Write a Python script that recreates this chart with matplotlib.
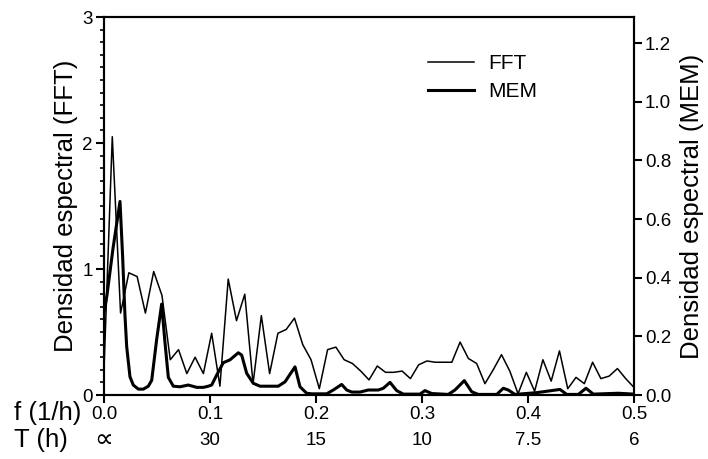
import numpy as np
import matplotlib
matplotlib.use("Agg")
import matplotlib.pyplot as plt
from matplotlib.ticker import MultipleLocator, FormatStrFormatter

plt.rcParams['font.family'] = ['Liberation Sans', 'DejaVu Sans']

# FFT periodogram, bins at k/128 (1/h)
fft_freq = np.arange(65) / 128
fft_dens = [0.20, 2.05, 0.65, 0.97, 0.94, 0.65, 0.98, 0.79, 0.28, 0.36,
            0.17, 0.30, 0.17, 0.49, 0.07, 0.92, 0.59, 0.80, 0.09, 0.63,
            0.17, 0.49, 0.52, 0.61, 0.40, 0.28, 0.05, 0.36, 0.38, 0.28,
            0.25, 0.19, 0.12, 0.23, 0.18, 0.18, 0.19, 0.13, 0.24, 0.27,
            0.26, 0.26, 0.26, 0.42, 0.29, 0.25, 0.09, 0.20, 0.32, 0.19,
            0.01, 0.18, 0.03, 0.28, 0.11, 0.35, 0.05, 0.14, 0.09, 0.26,
            0.13, 0.15, 0.21, 0.13, 0.06]

# MEM spectrum (right axis)
mem_freq = [0.0, 0.0028, 0.0085, 0.0151, 0.0176, 0.0198, 0.0214, 0.0245,
            0.0276, 0.0324, 0.0371, 0.0418, 0.0450, 0.0497, 0.0544, 0.0575,
            0.0607, 0.0654, 0.0717, 0.0795, 0.0875, 0.0937, 0.0984, 0.1016,
            0.1063, 0.1125, 0.1189, 0.1267, 0.1299, 0.1346, 0.1408, 0.1472,
            0.1644, 0.1708, 0.1802, 0.1849, 0.1912, 0.1959, 0.2101, 0.2163,
            0.2242, 0.2290, 0.2337, 0.2415, 0.2493, 0.2588, 0.2635, 0.2698,
            0.2761, 0.2824, 0.2981, 0.3028, 0.3092, 0.3248, 0.3311, 0.3399,
            0.3469, 0.3531, 0.3705, 0.3767, 0.3814, 0.3877, 0.4082, 0.4302,
            0.4365, 0.4475, 0.4547, 0.4616, 0.4852, 0.5]
mem_dens = [0.28, 0.34, 0.50, 0.66, 0.47, 0.27, 0.165, 0.062,
            0.034, 0.02, 0.02, 0.03, 0.05, 0.19, 0.31, 0.18,
            0.06, 0.03, 0.028, 0.034, 0.026, 0.026, 0.03, 0.034,
            0.068, 0.11, 0.12, 0.144, 0.136, 0.074, 0.04, 0.03,
            0.03, 0.045, 0.096, 0.028, 0.006, 0.004, 0.004, 0.017,
            0.036, 0.017, 0.01, 0.01, 0.017, 0.017, 0.023, 0.043,
            0.015, 0.003, 0.003, 0.015, 0.005, 0.002, 0.017, 0.049,
            0.011, 0.002, 0.002, 0.023, 0.017, 0.002, 0.008, 0.019,
            0.002, 0.002, 0.023, 0.003, 0.006, 0.003]

f_ticks = [0.0, 0.1, 0.2, 0.3, 0.4, 0.5]
period_labels = ['\u221d', '30', '15', '10', '7.5', '6']

fig = plt.figure(figsize=(7.08, 4.59), dpi=100)
ax = fig.add_axes([104 / 708, 64 / 459, 530 / 708, 378 / 459])
ax2 = ax.twinx()

l1, = ax.plot(fft_freq, fft_dens, color='black', lw=1.1)
l2, = ax2.plot(mem_freq, mem_dens, color='black', lw=2.2)

ax.set_xlim(0, 0.5)
ax.set_ylim(0, 3)
ax2.set_ylim(0, 1.2888)

ax.set_xticks(f_ticks)
ax.xaxis.set_major_formatter(FormatStrFormatter('%.1f'))
ax.yaxis.set_major_locator(MultipleLocator(1))
ax.yaxis.set_minor_locator(MultipleLocator(0.1))
ax2.yaxis.set_major_locator(MultipleLocator(0.2))
ax2.yaxis.set_major_formatter(FormatStrFormatter('%.1f'))

for a in (ax, ax2):
    for s in a.spines.values():
        s.set_linewidth(1.5)
    a.tick_params(which='major', direction='out', length=6, width=1.5,
                  labelsize=13.5, pad=2)
    a.tick_params(which='minor', direction='out', length=3, width=1.2)

ax.set_ylabel('Densidad espectral (FFT)', fontsize=18.5, labelpad=3)
ax2.set_ylabel('Densidad espectral (MEM)', fontsize=18.5, labelpad=6)

# period row under the frequency ticks
for f, lab in zip(f_ticks, period_labels):
    if lab == '\u221d':
        ax.text(f, -0.12, lab, transform=ax.get_xaxis_transform(),
                ha='center', va='center', fontsize=19, family='DejaVu Sans')
    else:
        ax.text(f, -0.12, lab, transform=ax.get_xaxis_transform(),
                ha='center', va='center', fontsize=13.5)
fig.text(14 / 708, 1 - 413 / 459, 'f (1/h)', ha='left', va='center', fontsize=18.5)
fig.text(14 / 708, 1 - 440 / 459, 'T (h)', ha='left', va='center', fontsize=18.5)

fig.legend([l1, l2], ['FFT', 'MEM'], loc='upper left',
           bbox_to_anchor=(428 / 708, 1 - 54 / 459), frameon=False,
           fontsize=15, handlelength=2.2, handletextpad=0.7,
           labelspacing=0.45, borderpad=0, borderaxespad=0)

fig.savefig('out.png', dpi=100)
